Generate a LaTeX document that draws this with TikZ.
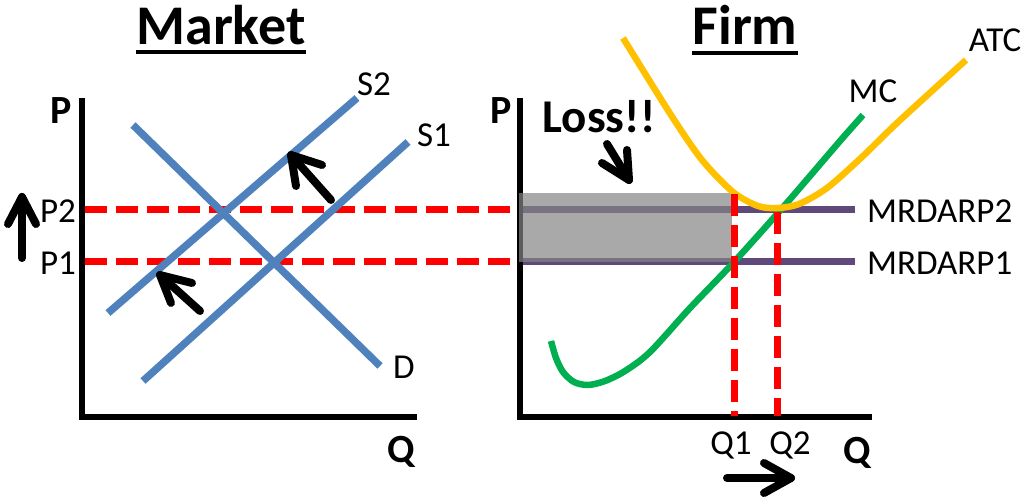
\documentclass[tikz,border=0pt]{standalone}
\usepackage{fontspec}
\setmainfont{Carlito}
\usetikzlibrary{calc}
\definecolor{sblue}{HTML}{4F81BD}
\definecolor{mcgreen}{HTML}{00B050}
\definecolor{atcyellow}{HTML}{FFC000}
\definecolor{mrpurple}{HTML}{5F497A}
\definecolor{lossgray}{HTML}{858585}
\definecolor{dred}{HTML}{FF0000}
\begin{document}
\begin{tikzpicture}[x=1pt,y=-1pt,
  axisline/.style={line width=6pt},
  bluecurve/.style={sblue, line width=7.5pt},
  reddash/.style={dred, line width=7pt, dash pattern=on 22pt off 9pt},
  mrline/.style={mrpurple, line width=7pt},
  costcurve/.style={line width=6.5pt},
  blkarrow/.style={line width=8pt, line cap=round, line join=round},
  lbl/.style={inner sep=0pt, font=\fontsize{35}{40}\selectfont},
  axlbl/.style={inner sep=0pt, font=\fontsize{40}{46}\selectfont\bfseries},
  ttl/.style={inner sep=0pt, font=\fontsize{56}{60}\selectfont\bfseries},
  uline/.style={line width=4pt}]
\useasboundingbox (0,0) rectangle (1024,502);

% ---------- Market ----------
\node[ttl, anchor=base] (mkt) at (221,45) {Market};
\draw[uline] ([yshift=-7pt]mkt.base west) -- ([yshift=-7pt]mkt.base east);

\coordinate (mtop) at (82,98);
\coordinate (morig) at (82,417);
\coordinate (mright) at (417,417);
\draw[axisline] (mtop) -- (morig) -- (mright);
\node[axlbl] (mP) at (61,111) {P};
\node[axlbl] (mQ) at (401,452) {Q};

% price lines
\coordinate (p2a) at (85,210);
\coordinate (p2b) at (519,210);
\coordinate (p1a) at (85,262);
\coordinate (p1b) at (519,262);
\draw[reddash] (p2a) -- (p2b);
\draw[reddash] (p1a) -- (p1b);

\coordinate (s2a) at (108,313);
\coordinate (s2b) at (357,98);
\coordinate (s1a) at (143,381);
\coordinate (s1b) at (408,142);
\coordinate (da) at (133,125);
\coordinate (db) at (380,366);
\draw[bluecurve] (s2a) -- (s2b);
\draw[bluecurve] (s1a) -- (s1b);
\draw[bluecurve] (da) -- (db);
\node[lbl] (lS2) at (374,84) {S2};
\node[lbl] (lS1) at (434,135) {S1};
\node[lbl] (lD) at (404,367) {D};
\node[lbl] (lP2) at (58,211) {P2};
\node[lbl] (lP1) at (58,263) {P1};

% arrows
\coordinate (uaT) at (22,197);
\coordinate (uaB) at (22,258);
\coordinate (uaL) at (8,224);
\coordinate (uaR) at (36,224);
\draw[blkarrow] (uaL) -- (uaT) -- (uaR);
\draw[blkarrow] (uaB) -- (uaT);

\coordinate (a2T) at (291,155);
\coordinate (a2B) at (331,200);
\coordinate (a2L) at (296,186);
\coordinate (a2R) at (322,165);
\draw[blkarrow] (a2L) -- (a2T) -- (a2R);
\draw[blkarrow] (a2B) -- (a2T);

\coordinate (a1T) at (160,275);
\coordinate (a1B) at (200,311);
\coordinate (a1L) at (171,303);
\coordinate (a1R) at (192,283);
\draw[blkarrow] (a1L) -- (a1T) -- (a1R);
\draw[blkarrow] (a1B) -- (a1T);

% ---------- Firm ----------
\node[ttl, anchor=base] (frm) at (745,45) {Firm};
\draw[uline] ([yshift=-8pt]frm.base west) -- ([yshift=-8pt]frm.base east);

\coordinate (ftop) at (520,98);
\coordinate (forig) at (520,417);
\coordinate (fright) at (872,417);

\coordinate (mr2a) at (519,210);
\coordinate (mr2b) at (855,210);
\coordinate (mr1a) at (519,262);
\coordinate (mr1b) at (855,262);
\draw[mrline] (mr2a) -- (mr2b);
\draw[mrline] (mr1a) -- (mr1b);

\draw[axisline] (ftop) -- (forig) -- (fright);
\node[axlbl] (fP) at (501,111) {P};
\node[axlbl] (fQ) at (857,453) {Q};

\coordinate (lossA) at (519,193);
\coordinate (lossB) at (732,262);
\fill[lossgray, fill opacity=0.7] (lossA) rectangle (lossB);

% MC
\draw[mcgreen, costcurve] plot[smooth, tension=0.5] coordinates {
 (551,341) (556,358) (563,372) (574,382) (588,385) (605,381) (625,371)
 (650,352) (690,308) (734,262) (785,205) (840,141) (863,115)};
% ATC
\draw[atcyellow, costcurve] plot[smooth, tension=0.5] coordinates {
 (623,38) (671,115) (702,160) (733,192) (758,206) (777,208) (799,204)
 (827,188) (862,157) (897,123) (966,60)};

\coordinate (q1t) at (734,194);
\coordinate (q1b) at (734,416);
\coordinate (q2t) at (777,212);
\coordinate (q2b) at (777,416);
\draw[reddash] (q1t) -- (q1b);
\draw[reddash] (q2t) -- (q2b);

\node[lbl] (lMC) at (873,91) {MC};
\node[lbl] (lATC) at (995,40) {ATC};
\node[lbl, anchor=west] (lMR2) at (867,211) {MRDARP2};
\node[lbl, anchor=west] (lMR1) at (867,263) {MRDARP1};
\node[lbl] (lQ1) at (731,445) {Q1};
\node[lbl] (lQ2) at (790,445) {Q2};
\node[inner sep=0pt, font=\fontsize{47}{52}\selectfont\bfseries] (lLoss) at (599,117) {Loss!!};

\coordinate (laT) at (629,180);
\coordinate (laB) at (607,144);
\coordinate (laL) at (602,163);
\coordinate (laR) at (627,150);
\draw[blkarrow] (laL) -- (laT) -- (laR);
\draw[blkarrow] (laB) -- (laT);

\coordinate (raT) at (791,478);
\coordinate (raB) at (727,478);
\coordinate (raL) at (764,463);
\coordinate (raR) at (764,493);
\draw[blkarrow] (raL) -- (raT) -- (raR);
\draw[blkarrow] (raB) -- (raT);
\end{tikzpicture}
\end{document}
